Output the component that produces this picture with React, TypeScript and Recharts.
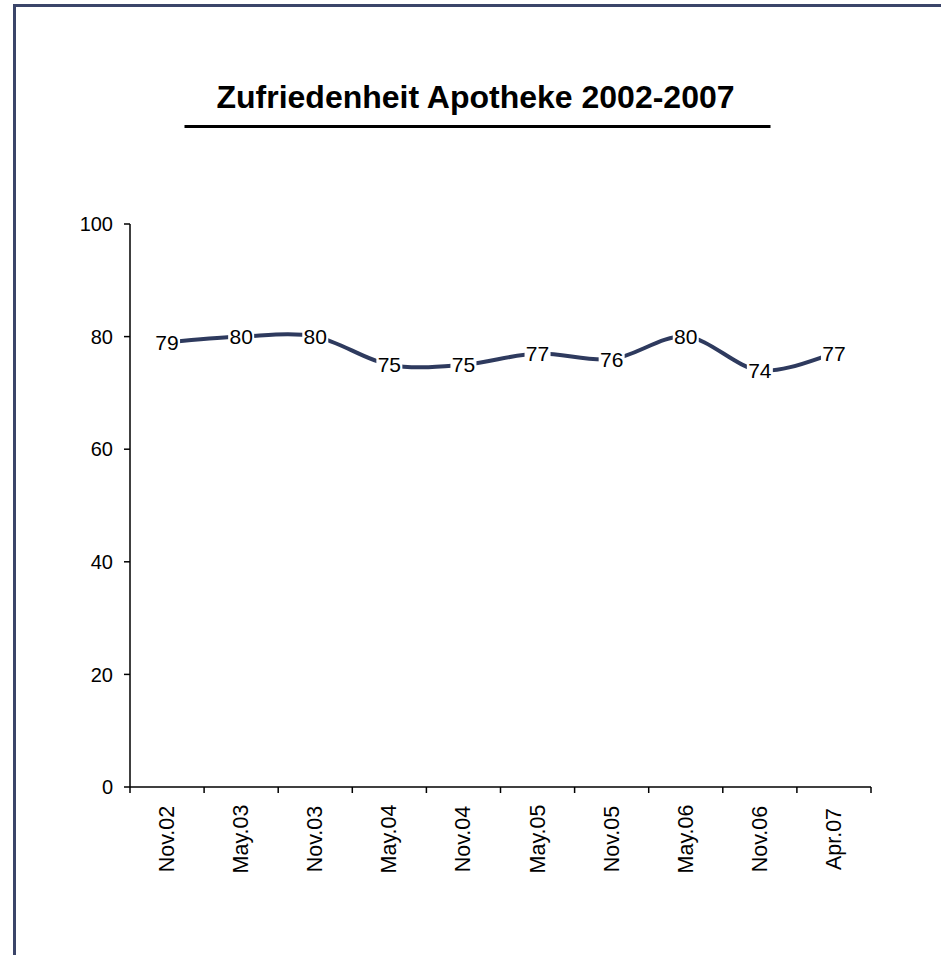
import React from "react";
import { LineChart, Line, XAxis, YAxis, LabelList } from "recharts";

const categories = ["Nov.02", "May.03", "Nov.03", "May.04", "Nov.04", "May.05", "Nov.05", "May.06", "Nov.06", "Apr.07"];
const satisfaction = [79, 80, 80, 75, 75, 77, 76, 80, 74, 77];
const yTicks = [0, 20, 40, 60, 80, 100];
const title = "Zufriedenheit Apotheke 2002-2007";

const data = categories.map((c, i) => ({ pos: i + 0.5, name: c, value: satisfaction[i] }));
const xTicks: number[] = [];
for (let i = 0; i <= categories.length; i++) {
  xTicks.push(i);
  if (i < categories.length) xTicks.push(i + 0.5);
}

const FONT = "'Liberation Sans', Arial, Helvetica, sans-serif";
const LINE_COLOR = "#2e3a5e";

// Excel-like smoothed line (Catmull-Rom style Bezier)
const excelCurve = (context: any) => {
  let pts: number[][] = [];
  return {
    areaStart() {},
    areaEnd() {},
    lineStart() {
      pts = [];
    },
    point(x: number, y: number) {
      pts.push([+x, +y]);
    },
    lineEnd() {
      if (!pts.length) return;
      context.moveTo(pts[0][0], pts[0][1]);
      for (let i = 0; i < pts.length - 1; i++) {
        const p0 = pts[i - 1] || pts[i];
        const p1 = pts[i];
        const p2 = pts[i + 1];
        const p3 = pts[i + 2] || pts[i + 1];
        context.bezierCurveTo(
          p1[0] + (p2[0] - p0[0]) / 6,
          p1[1] + (p2[1] - p0[1]) / 6,
          p2[0] - (p3[0] - p1[0]) / 6,
          p2[1] - (p3[1] - p1[1]) / 6,
          p2[0],
          p2[1]
        );
      }
    },
  };
};

const XTick = (props: any) => {
  const { x, y, payload } = props;
  const v = payload.value as number;
  if (Number.isInteger(v)) {
    return <line x1={x} y1={y} x2={x} y2={y + 6} stroke="#000" strokeWidth={1.5} />;
  }
  const label = categories[Math.floor(v)];
  return (
    <text
      transform={`translate(${x},${y + 52}) rotate(-90)`}
      textAnchor="middle"
      dominantBaseline="central"
      fontFamily={FONT}
      fontSize={21.5}
      fill="#000"
    >
      {label}
    </text>
  );
};

const DataLabel = (props: any) => {
  const { x, y, value } = props;
  return (
    <g>
      <rect x={x - 13} y={y - 11} width={26} height={22} fill="#fff" />
      <text
        x={x}
        y={y}
        textAnchor="middle"
        dominantBaseline="central"
        fontFamily={FONT}
        fontSize={21}
        fill="#000"
      >
        {value}
      </text>
    </g>
  );
};

export default function App() {
  return (
    <div
      style={{
        position: "absolute",
        left: 0,
        top: 0,
        width: 941,
        height: 955,
        overflow: "hidden",
        background: "#fff",
      }}
    >
      <div
        style={{
          position: "absolute",
          left: 13,
          top: 4,
          width: 1000,
          height: 1000,
          borderLeft: "3px solid #3b4569",
          borderTop: "3px solid #3b4569",
        }}
      />
      <svg width={941} height={955} style={{ position: "absolute", left: 0, top: 0 }}>
        <text
          x={475.5}
          y={108}
          textAnchor="middle"
          fontFamily={FONT}
          fontWeight="bold"
          fontSize={32}
          fill="#000"
        >
          {title}
        </text>
        <line x1={184.5} y1={126.5} x2={770.5} y2={126.5} stroke="#000" strokeWidth={3} />
      </svg>
      <div style={{ position: "absolute", left: 0, top: 0 }}>
        <LineChart
          width={941}
          height={955}
          data={data}
          margin={{ top: 224, right: 70, bottom: 0, left: 0 }}
        >
          <XAxis
            dataKey="pos"
            type="number"
            domain={[0, categories.length]}
            ticks={xTicks}
            interval={0}
            height={168}
            tickLine={false}
            tickSize={0}
            tickMargin={0}
            tick={<XTick />}
            axisLine={{ stroke: "#000", strokeWidth: 1.5 }}
          />
          <YAxis
            type="number"
            domain={[0, 100]}
            ticks={yTicks}
            width={130}
            interval={0}
            tickSize={6}
            tickMargin={11}
            tickLine={{ stroke: "#000", strokeWidth: 1.5 }}
            axisLine={{ stroke: "#000", strokeWidth: 1.5 }}
            tick={{ fill: "#000", fontSize: 20, fontFamily: FONT }}
          />
          <Line
            dataKey="value"
            type={excelCurve as any}
            stroke={LINE_COLOR}
            strokeWidth={4}
            dot={false}
            isAnimationActive={false}
          >
            <LabelList dataKey="value" content={<DataLabel />} />
          </Line>
        </LineChart>
      </div>
    </div>
  );
}
